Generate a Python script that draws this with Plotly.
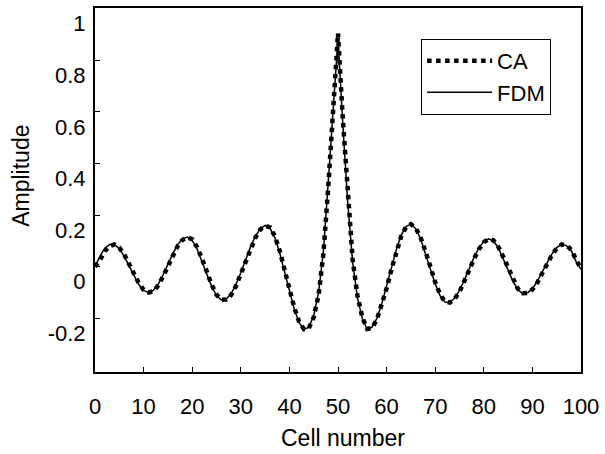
import plotly.graph_objects as go

cells = list(range(0, 101))

fdm = [0.0, 0.04, 0.072, 0.086, 0.086, 0.070, 0.041, 0.004, -0.035, -0.069,
       -0.092, -0.100, -0.092, -0.068, -0.032, 0.010, 0.050, 0.086, 0.108, 0.115,
       0.102, 0.069, 0.024, -0.028, -0.076, -0.112, -0.129, -0.125, -0.105, -0.069,
       -0.023, 0.028, 0.077, 0.118, 0.147, 0.160, 0.150, 0.113, 0.054, -0.019,
       -0.097, -0.164, -0.217, -0.243, -0.235, -0.190, -0.100, 0.060, 0.330, 0.600,
       0.885, 0.550, 0.250, 0.020, -0.120, -0.200, -0.243, -0.234, -0.200, -0.144,
       -0.076, -0.002, 0.066, 0.122, 0.156, 0.165, 0.147, 0.108, 0.053, -0.009,
       -0.066, -0.112, -0.137, -0.138, -0.122, -0.092, -0.052, -0.007, 0.037, 0.073,
       0.098, 0.108, 0.100, 0.073, 0.033, -0.012, -0.057, -0.088, -0.104, -0.101,
       -0.085, -0.057, -0.021, 0.015, 0.049, 0.074, 0.087, 0.082, 0.062, 0.020,
       -0.010]

ca = [0.0, 0.025, 0.060, 0.080, 0.086, 0.074, 0.048, 0.012, -0.028, -0.063,
      -0.089, -0.100, -0.095, -0.073, -0.038, 0.003, 0.044, 0.080, 0.104, 0.114,
      0.106, 0.076, 0.032, -0.020, -0.069, -0.108, -0.128, -0.127, -0.110, -0.075,
      -0.030, 0.021, 0.071, 0.113, 0.144, 0.159, 0.153, 0.119, 0.062, -0.010,
      -0.089, -0.158, -0.213, -0.242, -0.238, -0.196, -0.110, 0.050, 0.310, 0.590,
      0.905, 0.570, 0.265, 0.030, -0.112, -0.196, -0.241, -0.237, -0.205, -0.151,
      -0.084, -0.010, 0.060, 0.118, 0.154, 0.165, 0.150, 0.113, 0.060, -0.002,
      -0.060, -0.107, -0.135, -0.139, -0.125, -0.097, -0.058, -0.013, 0.031, 0.068,
      0.095, 0.108, 0.102, 0.077, 0.038, -0.006, -0.052, -0.085, -0.103, -0.102,
      -0.088, -0.062, -0.026, 0.010, 0.045, 0.071, 0.086, 0.084, 0.066, 0.028,
      -0.008]

y_ticks = [-0.2, 0, 0.2, 0.4, 0.6, 0.8, 1.0]
y_tick_text = ["-0.2", "0", "0.2", "0.4", "0.6", "0.8", "1"]
x_ticks = [0, 10, 20, 30, 40, 50, 60, 70, 80, 90, 100]

FONT = "Liberation Sans, Arial, sans-serif"

fig = go.Figure()
fig.add_trace(go.Scatter(x=cells, y=ca, mode="lines", name="CA",
                         line=dict(color="black", width=4.5, dash="dot")))
fig.add_trace(go.Scatter(x=cells, y=fdm, mode="lines", name="FDM",
                         line=dict(color="black", width=1.5)))

fig.update_layout(
    width=605, height=454,
    margin=dict(l=95, r=21, t=6, b=82),
    paper_bgcolor="white", plot_bgcolor="white",
    font=dict(family=FONT, size=22, color="black"),
    showlegend=True,
    legend=dict(x=0.671, y=0.915, xanchor="left", yanchor="top",
                bordercolor="black", borderwidth=1, bgcolor="white",
                font=dict(size=22), tracegroupgap=0, itemwidth=65),
    xaxis=dict(range=[0, 100], tickvals=x_ticks, ticks="inside", ticklen=5,
               tickcolor="black", showline=True, linecolor="black", linewidth=2,
               mirror=True, showgrid=False, zeroline=False,
               ticklabelstandoff=14),
    yaxis=dict(range=[-0.408, 1.003], tickvals=y_ticks, ticktext=y_tick_text,
               ticks="inside", ticklen=5, tickcolor="black", showline=True,
               linecolor="black", linewidth=2, mirror=True, showgrid=False,
               zeroline=False, ticklabelshift=15, ticklabelstandoff=3),
    annotations=[
        dict(text="Cell number", xref="paper", yref="paper", x=0.511, y=-0.180,
             xanchor="center", yanchor="middle", showarrow=False,
             font=dict(size=23)),
        dict(text="Amplitude", xref="paper", yref="paper", x=-0.151, y=0.538,
             xanchor="center", yanchor="middle", showarrow=False, textangle=-90,
             font=dict(size=23)),
    ],
)

fig.write_html("out.html", config={"displayModeBar": False},
               post_script="document.body.style.margin='0px';")
